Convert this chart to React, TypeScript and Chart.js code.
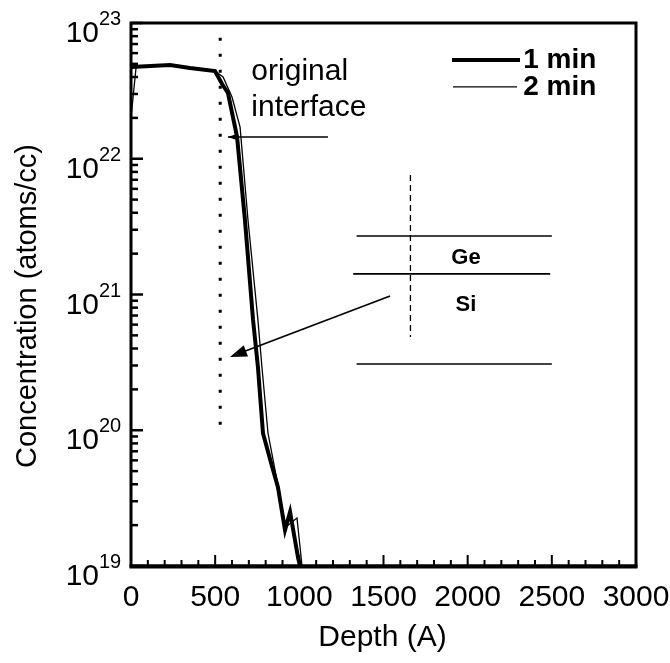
import React, { useEffect, useRef } from "react";
import { Chart, registerables } from "chart.js";
Chart.register(...registerables);

// ---- data (depth in Å, concentration in atoms/cc) ----
const depth1min = [0, 232, 350, 499, 541, 576, 630, 677, 725, 754, 784, 838, 873, 915, 945, 992, 1004];
const conc1min = [4.74e22, 4.9e22, 4.66e22, 4.43e22, 3.55e22, 3.05e22, 1.45e22, 3.54e21, 6.5e20, 2.93e20, 9.5e19, 5.4e19, 3.8e19, 1.84e19, 2.5e19, 1.16e19, 1.0e19];
const depth2min = [0, 30, 232, 350, 499, 547, 600, 648, 695, 754, 778, 814, 867, 897, 921, 986, 1016];
const conc2min = [2.0e22, 4.7e22, 4.9e22, 4.66e22, 4.43e22, 4.0e22, 2.85e22, 1.71e22, 3.54e21, 6.5e20, 2.9e20, 9.5e19, 4.3e19, 2.7e19, 1.94e19, 2.26e19, 1.0e19];

const seriesLabels = ["1 min", "2 min"];
const xTickLabels = ["0", "500", "1000", "1500", "2000", "2500", "3000"];
const xMajorTicks = [0, 500, 1000, 1500, 2000, 2500, 3000];
const yDecades = [19, 20, 21, 22, 23];
const xTitle = "Depth (A)";
const yTitle = "Concentration (atoms/cc)";

// ---- annotation placement (data coordinates) ----
const interfaceDepth = 530;
const interfaceRange = [9.2e19, 7.8e22];
const interfaceText = ["original", "interface"];
const interfaceTextPos = [{ x: 715, y: 4.35e22 }, { x: 715, y: 2.37e22 }];
const interfaceArrow = { from: { x: 1170, y: 1.445e22 }, to: { x: 576, y: 1.445e22 } };
const legendPos = [
  { x1: 1907, x2: 2311, y: 5.33e22, tx: 2330 },
  { x1: 1913, x2: 2293, y: 3.38e22, tx: 2330 },
];
const insetLines = [
  { x1: 1340, x2: 2500, y: 2.7e21 },
  { x1: 1320, x2: 2490, y: 1.42e21 },
  { x1: 1340, x2: 2500, y: 3.08e20 },
];
const insetDash = { x: 1660, y1: 4.86e20, y2: 7.6e21 };
const insetLabels = [
  { t: "Ge", x: 1990, y: 1.86e21 },
  { t: "Si", x: 1990, y: 8.4e20 },
];
const siArrow = { from: { x: 1539, y: 9.75e20 }, to: { x: 588, y: 3.47e20 } };

const FONT = '"Liberation Sans", Arial, sans-serif';

function arrowHead(ctx: CanvasRenderingContext2D, fx: number, fy: number, tx: number, ty: number, len: number, half: number) {
  const a = Math.atan2(ty - fy, tx - fx);
  const bx = tx - len * Math.cos(a);
  const by = ty - len * Math.sin(a);
  ctx.beginPath();
  ctx.moveTo(tx, ty);
  ctx.lineTo(bx + half * Math.sin(a), by - half * Math.cos(a));
  ctx.lineTo(bx - half * Math.sin(a), by + half * Math.cos(a));
  ctx.closePath();
  ctx.fill();
}

const decorPlugin = {
  id: "decor",
  afterDraw(chart: any) {
    const ctx: CanvasRenderingContext2D = chart.ctx;
    const xs = chart.scales.x;
    const ys = chart.scales.y;
    const { left, right, top, bottom } = chart.chartArea;
    const X = (v: number) => xs.getPixelForValue(v);
    const Y = (v: number) => ys.getPixelForValue(v);
    ctx.save();
    ctx.strokeStyle = "#000";
    ctx.fillStyle = "#000";

    // frame
    ctx.lineWidth = 3;
    ctx.strokeRect(left, top, right - left, bottom - top);
    ctx.lineWidth = 4;
    ctx.beginPath();
    ctx.moveTo(left - 1.5, bottom + 0.5);
    ctx.lineTo(right + 1.5, bottom + 0.5);
    ctx.stroke();

    // x ticks (inward)
    ctx.lineWidth = 2;
    for (let v = 0; v <= 3000; v += 100) {
      const px = X(v);
      const major = xMajorTicks.includes(v);
      ctx.beginPath();
      ctx.moveTo(px, bottom);
      ctx.lineTo(px, bottom - (major ? 11 : 6));
      ctx.stroke();
    }
    // y ticks (inward)
    ctx.lineWidth = 2.5;
    for (let i = 0; i < yDecades.length; i++) {
      const e = yDecades[i];
      const py = Y(Math.pow(10, e));
      ctx.beginPath();
      ctx.moveTo(left, py);
      ctx.lineTo(left + 12, py);
      ctx.stroke();
      if (i < yDecades.length - 1) {
        for (let m = 2; m <= 9; m++) {
          const pm = Y(m * Math.pow(10, e));
          ctx.beginPath();
          ctx.moveTo(left, pm);
          ctx.lineTo(left + 7, pm);
          ctx.stroke();
        }
      }
    }

    // x tick labels
    ctx.font = `30px ${FONT}`;
    ctx.textAlign = "center";
    ctx.textBaseline = "alphabetic";
    xMajorTicks.forEach((v, i) => ctx.fillText(xTickLabels[i], X(v), 606));
    // y tick labels with superscripts
    yDecades.forEach((e) => {
      const py = Y(Math.pow(10, e));
      ctx.font = `30px ${FONT}`;
      ctx.textAlign = "right";
      ctx.fillText("10", 99, py + 19);
      ctx.font = `20px ${FONT}`;
      ctx.textAlign = "left";
      ctx.fillText(String(e), 99, py + 2);
    });

    // axis titles
    ctx.font = `30px ${FONT}`;
    ctx.textAlign = "center";
    ctx.fillText(xTitle, (left + right) / 2 - 1, 646);
    ctx.save();
    ctx.translate(28, 306);
    ctx.rotate(-Math.PI / 2);
    ctx.font = `29px ${FONT}`;
    ctx.textBaseline = "middle";
    ctx.fillText(yTitle, 0, 0);
    ctx.restore();

    // original interface dotted line
    ctx.lineWidth = 3;
    ctx.setLineDash([3, 13]);
    ctx.beginPath();
    ctx.moveTo(X(interfaceDepth), Y(interfaceRange[1]));
    ctx.lineTo(X(interfaceDepth), Y(interfaceRange[0]));
    ctx.stroke();
    ctx.setLineDash([]);

    // original interface text + arrow
    ctx.font = `30px ${FONT}`;
    ctx.textAlign = "left";
    ctx.textBaseline = "middle";
    interfaceText.forEach((t, i) => ctx.fillText(t, X(interfaceTextPos[i].x), Y(interfaceTextPos[i].y)));
    ctx.lineWidth = 1.5;
    ctx.beginPath();
    ctx.moveTo(X(interfaceArrow.from.x), Y(interfaceArrow.from.y));
    ctx.lineTo(X(interfaceArrow.to.x), Y(interfaceArrow.to.y));
    ctx.stroke();
    arrowHead(ctx, X(interfaceArrow.from.x), Y(interfaceArrow.from.y), X(interfaceArrow.to.x), Y(interfaceArrow.to.y), 10, 3.5);

    // legend
    ctx.font = `bold 28px ${FONT}`;
    legendPos.forEach((l, i) => {
      ctx.lineWidth = i === 0 ? 4 : 1.3;
      ctx.beginPath();
      ctx.moveTo(X(l.x1), Y(l.y));
      ctx.lineTo(X(l.x2), Y(l.y));
      ctx.stroke();
      ctx.fillText(seriesLabels[i], X(l.tx), Y(l.y));
    });

    // inset schematic
    ctx.lineWidth = 1.6;
    insetLines.forEach((l) => {
      ctx.beginPath();
      ctx.moveTo(X(l.x1), Y(l.y));
      ctx.lineTo(X(l.x2), Y(l.y));
      ctx.stroke();
    });
    ctx.lineWidth = 1.3;
    ctx.setLineDash([6, 4]);
    ctx.beginPath();
    ctx.moveTo(X(insetDash.x), Y(insetDash.y2));
    ctx.lineTo(X(insetDash.x), Y(insetDash.y1));
    ctx.stroke();
    ctx.setLineDash([]);
    ctx.font = `bold 22px ${FONT}`;
    ctx.textAlign = "center";
    insetLabels.forEach((l) => ctx.fillText(l.t, X(l.x), Y(l.y)));

    // Si arrow
    ctx.lineWidth = 1.8;
    const fx = X(siArrow.from.x), fy = Y(siArrow.from.y), tx = X(siArrow.to.x), ty = Y(siArrow.to.y);
    ctx.beginPath();
    ctx.moveTo(fx, fy);
    ctx.lineTo(tx + (fx - tx) * 0.08, ty + (fy - ty) * 0.08);
    ctx.stroke();
    arrowHead(ctx, fx, fy, tx, ty, 17, 6);

    ctx.restore();
  },
};

export default function App() {
  const ref = useRef<HTMLCanvasElement | null>(null);
  useEffect(() => {
    document.body.style.margin = "0";
    const canvas = ref.current;
    if (!canvas) return;
    const chart = new Chart(canvas, {
      type: "line",
      data: {
        datasets: [
          {
            label: seriesLabels[0],
            data: depth1min.map((d, i) => ({ x: d, y: conc1min[i] })),
            borderColor: "#000",
            borderWidth: 4,
            pointRadius: 0,
            tension: 0,
            fill: false,
          },
          {
            label: seriesLabels[1],
            data: depth2min.map((d, i) => ({ x: d, y: conc2min[i] })),
            borderColor: "#000",
            borderWidth: 1.3,
            pointRadius: 0,
            tension: 0,
            fill: false,
          },
        ],
      },
      options: {
        animation: false,
        responsive: false,
        devicePixelRatio: 1,
        layout: { padding: { top: 23, right: 34, left: 0, bottom: 0 } },
        plugins: { legend: { display: false }, tooltip: { enabled: false }, title: { display: false } },
        scales: {
          x: {
            type: "linear",
            min: 0,
            max: 3000,
            ticks: { display: false },
            grid: { display: false },
            border: { display: false },
            afterFit: (s: any) => { s.height = 97; },
          },
          y: {
            type: "logarithmic",
            min: 1e19,
            max: 1e23,
            ticks: { display: false },
            grid: { display: false },
            border: { display: false },
            afterFit: (s: any) => { s.width = 131; },
          },
        },
      } as any,
      plugins: [decorPlugin],
    });
    return () => chart.destroy();
  }, []);
  return <canvas ref={ref} width={670} height={663} style={{ width: 670, height: 663, display: "block" }} />;
}
